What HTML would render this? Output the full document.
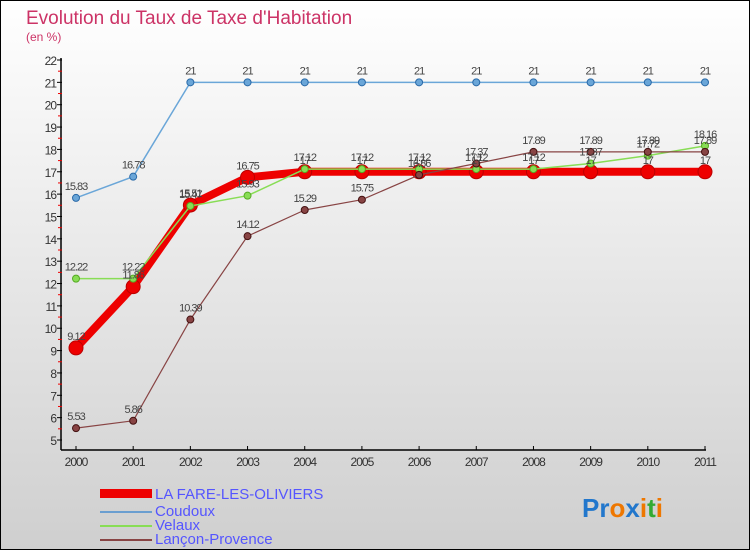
<!DOCTYPE html>
<html><head><meta charset="utf-8"><style>
body{margin:0}
svg{display:block;font-family:"Liberation Sans",sans-serif}
</style></head><body>
<svg width="750" height="550" xmlns="http://www.w3.org/2000/svg">
<defs><linearGradient id="bg" x1="0" y1="0" x2="0" y2="1"><stop offset="0" stop-color="#ffffff"/><stop offset="1" stop-color="#cfcfcf"/></linearGradient></defs>
<rect x="0.5" y="0.5" width="749" height="549" fill="url(#bg)" stroke="#000"/>
<text x="26" y="24" font-size="19" fill="#cc3366">Evolution du Taux de Taxe d'Habitation</text>
<text x="26" y="41" font-size="12" fill="#cc3366">(en %)</text>
<g id="axes"></g><g id="series"></g><g id="labels"></g>
<g>
<rect x="100" y="489" width="52" height="9" fill="#ee0000"/>
<text x="155" y="499" font-size="15" fill="#5555ff">LA FARE-LES-OLIVIERS</text>
<line x1="100" y1="512" x2="152" y2="512" stroke="#6a9ed0" stroke-width="2"/>
<text x="155" y="516" font-size="15" fill="#5555ff">Coudoux</text>
<line x1="100" y1="526" x2="152" y2="526" stroke="#88dd55" stroke-width="2"/>
<text x="155" y="530" font-size="15" fill="#5555ff">Velaux</text>
<line x1="100" y1="540" x2="152" y2="540" stroke="#884444" stroke-width="2"/>
<text x="155" y="544" font-size="15" fill="#5555ff">Lançon-Provence</text>
</g>
<text x="582" y="517" font-size="26" font-weight="bold"><tspan fill="#2277cc">Pr</tspan><tspan fill="#ee7700">o</tspan><tspan fill="#2277cc">x</tspan><tspan fill="#ee7700">i</tspan><tspan fill="#33aa33">t</tspan><tspan fill="#ee7700">i</tspan></text>
</svg>
<script>
const years=["2000","2001","2002","2003","2004","2005","2006","2007","2008","2009","2010","2011"];
const yTicks=[5,6,7,8,9,10,11,12,13,14,15,16,17,18,19,20,21,22];
const laFare=[9.12,11.86,15.51,16.75,17,17,17,17,17,17,17,17];
const coudoux=[15.83,16.78,21,21,21,21,21,21,21,21,21,21];
const velaux=[12.22,12.22,15.47,15.93,17.12,17.12,17.12,17.12,17.12,17.37,17.72,18.16];
const lancon=[5.53,5.86,10.39,14.12,15.29,15.75,16.86,17.37,17.89,17.89,17.89,17.89];
const NS="http://www.w3.org/2000/svg";
const xs=i=>76+i*(705-76)/11;
const ys=v=>440-(v-5)*(380/17);
function mk(tag,attrs,parent){const e=document.createElementNS(NS,tag);for(const k in attrs)e.setAttribute(k,attrs[k]);parent.appendChild(e);return e;}
const ax=document.getElementById('axes');
let a=mk('line',{x1:61,y1:58,x2:61,y2:450,stroke:'#000','stroke-width':1.5},ax);


a=mk('line',{x1:61,y1:450,x2:706,y2:450,stroke:'#000','stroke-width':1.5},ax);


yTicks.forEach(v=>{
 mk('line',{x1:57,y1:ys(v),x2:62,y2:ys(v),stroke:'#000'},ax);
 if(v<22)mk('line',{x1:58,y1:ys(v+0.5),x2:62,y2:ys(v+0.5),stroke:'#e00'},ax);
 const t=mk('text',{x:56,y:ys(v)+5,'font-size':12,fill:'#333','text-anchor':'end','letter-spacing':'-1'},ax);
 t.textContent=v;
 
 
});
years.forEach((y,i)=>{
 mk('line',{x1:xs(i),y1:446,x2:xs(i),y2:450,stroke:'#000'},ax);
 const t=mk('text',{x:xs(i),y:466,'font-size':12,fill:'#333','text-anchor':'middle','letter-spacing':'-1'},ax);
 t.textContent=y;
 
 
});
const sg=document.getElementById('series'),lg=document.getElementById('labels');
function series(vals,color,w,r,stroke,name){
 const g=mk('g',{},sg);
 
 
 mk('polyline',{points:vals.map((v,i)=>xs(i)+','+ys(v)).join(' '),fill:'none',stroke:color,'stroke-width':w,'stroke-linejoin':'round'},g);
 vals.forEach((v,i)=>{
  const c=mk('circle',{cx:xs(i),cy:ys(v),r:r,fill:color,stroke:stroke,'stroke-width':1},g);
  
  
  const t=mk('text',{x:xs(i),y:ys(v)-8,'font-size':11,fill:'#444','text-anchor':'middle','letter-spacing':'-1'},lg);
  t.textContent=v;
  
  
 });
}
series(coudoux,'#6aa6d8',1.5,3.5,'#2a6aa8','coudoux-series');
series(laFare,'#ee0000',8,7,'#bb0000','la-fare-series');
series(velaux,'#88dd55',1.5,3.5,'#55aa22','velaux-series');
series(lancon,'#884444',1.2,3.5,'#441111','lancon-series');
</script>
</body></html>
